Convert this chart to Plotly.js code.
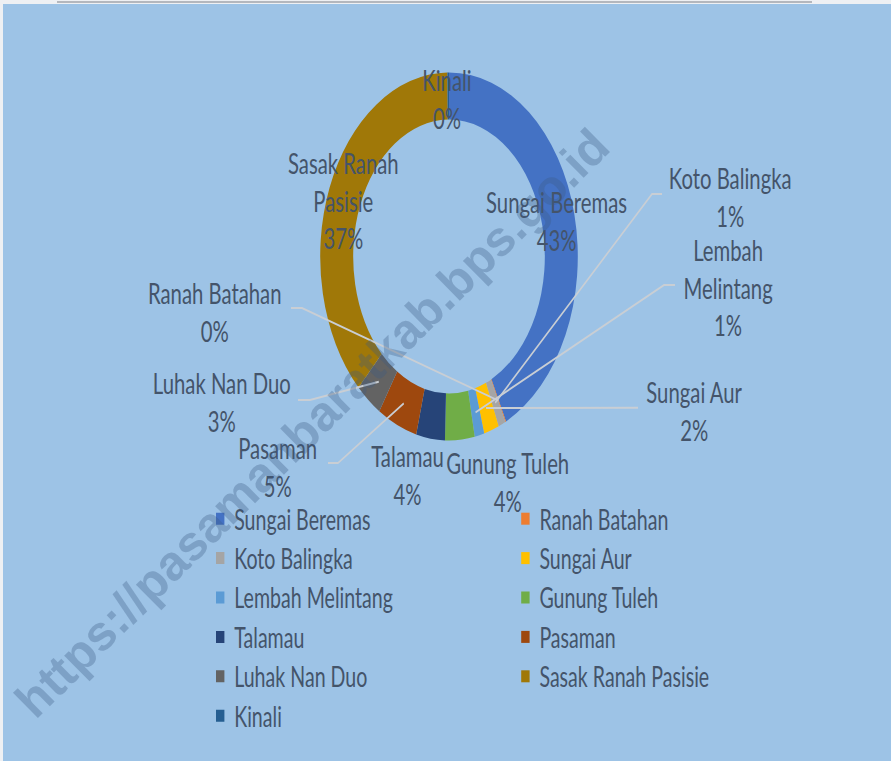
<!DOCTYPE html>
<html><head><meta charset="utf-8">
<script src="https://cdn.plot.ly/plotly-3.0.1.min.js"></script>
<style>
html,body{margin:0;padding:0;width:891px;height:761px;overflow:hidden;background:#eef0f3;}
#topline{position:absolute;left:57px;top:1px;width:755px;height:2px;background:#b4b7bd;}
#frame{position:absolute;left:3px;top:4px;width:888px;height:757px;overflow:hidden;background:#9DC3E6;}
#chart{position:absolute;left:0;top:0;width:1269px;height:757px;transform:scaleX(0.7);transform-origin:0 0;}
#wm{position:absolute;left:312px;top:423px;transform:translate(-50%,-50%) rotate(-44.7deg);font:bold 49px 'Liberation Sans',Arial,sans-serif;color:rgba(60,90,130,0.32);white-space:nowrap;pointer-events:none;}
</style></head>
<body>
<div id="topline"></div>
<div id="frame"><div id="chart"></div></div>
<div id="wm">https://pasamanbaratkab.bps.go.id</div>
<script>
// ---- data ----
const categories = ["Sungai Beremas","Ranah Batahan","Koto Balingka","Sungai Aur","Lembah Melintang","Gunung Tuleh","Talamau","Pasaman","Luhak Nan Duo","Sasak Ranah Pasisie","Kinali"];
const shares = [42.7, 0.1, 0.9, 1.9, 1.2, 3.7, 3.6, 5.0, 3.3, 37.4, 0.2];
const colors = ["#4472C4","#ED7D31","#A5A5A5","#FFC000","#5B9BD5","#70AD47","#264478","#9E480E","#636363","#A07808","#255E91"];

// ---- layout helpers (image px -> virtual px -> paper) ----
const S = 0.7, OX = 3, OY = 4;
const W = 1269, H = 757, ML = 0, MR = 100;
const PW = W - ML - MR, PH = H;
function toPaper(X, Y){ const vx = (X - OX) / S, vy = Y - OY; return [(vx - ML) / PW, 1 - vy / PH]; }
const CX = (449 - OX) / S, CY = 256.5 - OY, R = 184, HOLE = 0.744;

// label placement (image px): text centre, optional leader start + elbow
const labelLayout = {
  "Sungai Beremas":      {pos:[557,221], lines:["Sungai Beremas"]},
  "Ranah Batahan":       {pos:[214.5,311], lines:["Ranah Batahan"], lead:[[291,308],[302,308]]},
  "Koto Balingka":       {pos:[730,196.5], lines:["Koto Balingka"], lead:[[662,194],[652,194]]},
  "Sungai Aur":          {pos:[694,410], lines:["Sungai Aur"], lead:[[638,407.7],[638,407.7]]},
  "Lembah Melintang":    {pos:[728,287.5], lines:["Lembah","Melintang"], lead:[[675,285],[664,285]]},
  "Gunung Tuleh":        {pos:[508,481], lines:["Gunung Tuleh"]},
  "Talamau":             {pos:[407.5,474.5], lines:["Talamau"]},
  "Pasaman":             {pos:[278,466], lines:["Pasaman"], lead:[[328,463],[338,463]]},
  "Luhak Nan Duo":       {pos:[222,402], lines:["Luhak Nan Duo"], lead:[[298,400],[310,400]]},
  "Sasak Ranah Pasisie": {pos:[343,200], lines:["Sasak Ranah","Pasisie"]},
  "Kinali":              {pos:[447,98.5], lines:["Kinali"]}
};

const total = shares.reduce((a,b)=>a+b,0);
const textColor = "#44546A";
const annotations = [], shapes = [];
let cum = 0;
categories.forEach((c, i) => {
  const v = shares[i];
  const mid = (cum + v/2) / total * 2 * Math.PI;
  cum += v;
  const L = labelLayout[c];
  const pct = Math.round(v / total * 100);
  const p = toPaper(L.pos[0], L.pos[1]);
  annotations.push({xref:'paper', yref:'paper', x:p[0], y:p[1], xanchor:'center', yanchor:'middle',
    text: L.lines.concat([pct + '%']).join('<br>'), showarrow:false, align:'center',
    font:{family:'Lato, sans-serif', size:29, color:textColor}});
  if (L.lead) {
    const rm = R * (1 + HOLE) / 2;
    const ex = CX + rm * Math.sin(mid), ey = CY - rm * Math.cos(mid);
    const endP = [(ex - ML) / PW, 1 - ey / PH];
    const a = toPaper(L.lead[0][0], L.lead[0][1]);
    const b = toPaper(L.lead[1][0], L.lead[1][1]);
    shapes.push({type:'path', xref:'paper', yref:'paper',
      path:`M ${a[0]} ${a[1]} L ${b[0]} ${b[1]} L ${endP[0]} ${endP[1]}`,
      line:{color:'#C9CED4', width:2}});
  }
});

const trace = {
  type:'pie', labels:categories, values:shares, sort:false, direction:'clockwise', rotation:0,
  hole:HOLE, textinfo:'none', hoverinfo:'none',
  marker:{colors:colors, line:{width:0}},
  domain:{x:[(CX - R - ML)/PW, (CX + R - ML)/PW], y:[1 - (CY + R)/PH, 1 - (CY - R)/PH]}
};

const lx = ((216 - OX)/S + 6 - 20 - ML) / PW;
const layout = {
  width:W, height:H, margin:{l:ML, r:MR, t:0, b:0, pad:0},
  paper_bgcolor:'#9DC3E6', plot_bgcolor:'#9DC3E6',
  font:{family:'Lato, sans-serif', size:29, color:textColor},
  showlegend:true,
  legend:{orientation:'h', x:lx, xanchor:'left', y:1 - 490/PH, yanchor:'top',
    entrywidth:391, bgcolor:'rgba(0,0,0,0)', font:{family:'Lato, sans-serif', size:28, color:textColor}},
  annotations:annotations, shapes:shapes
};
Plotly.newPlot('chart', [trace], layout, {displayModeBar:false, staticPlot:true});
</script>
</body></html>
